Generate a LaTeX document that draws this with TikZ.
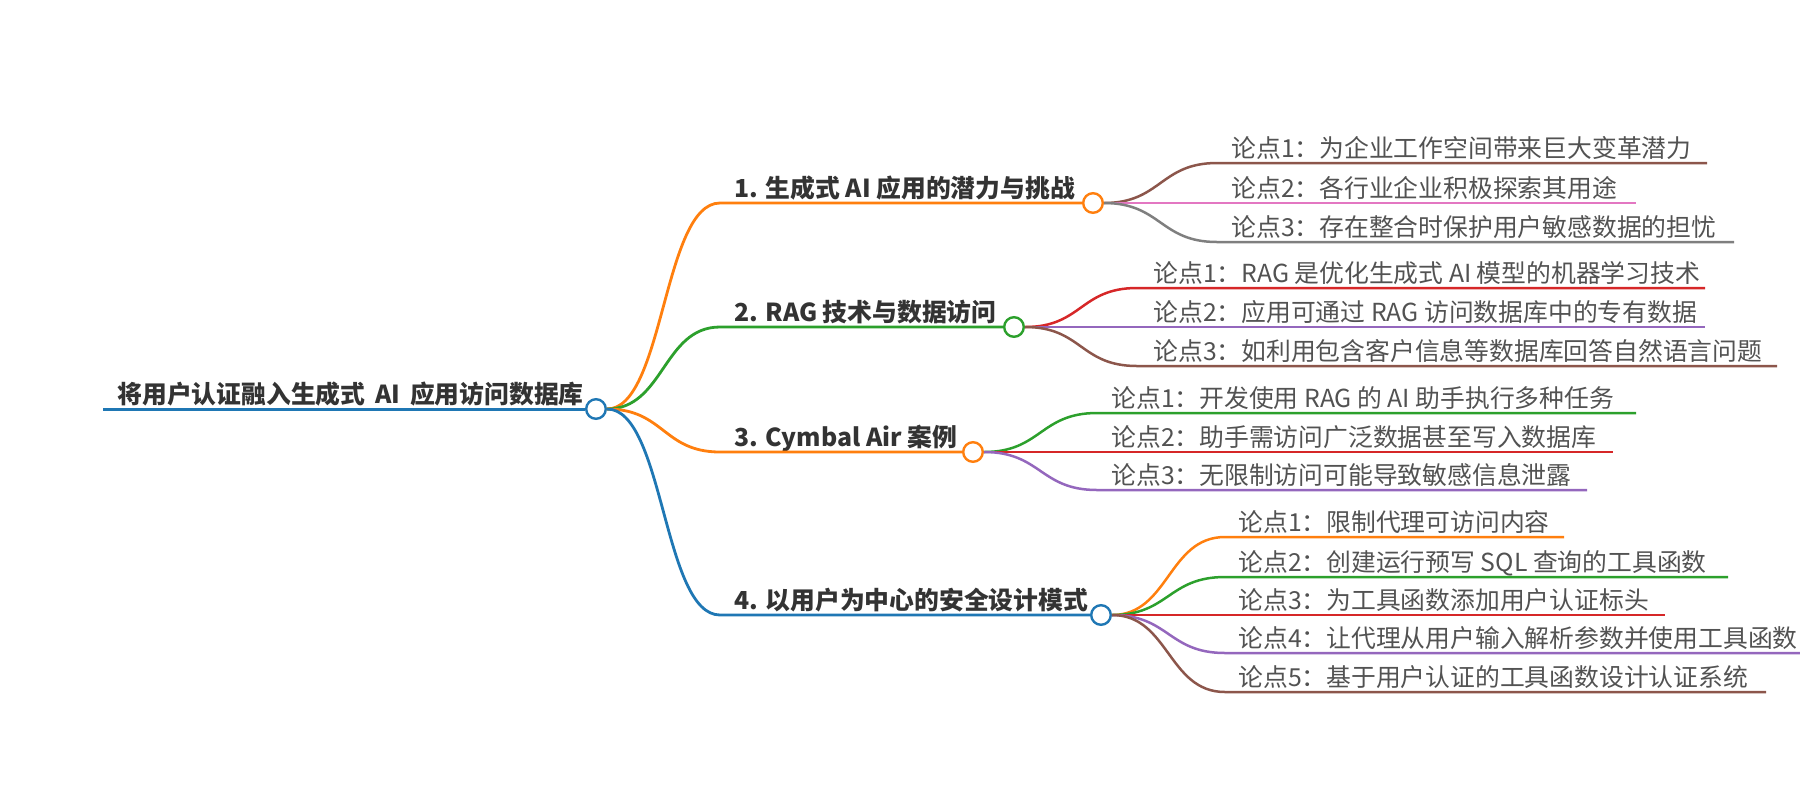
\documentclass[tikz,border=0pt]{standalone}
\usepackage{fontspec}
\setmainfont{Noto Sans CJK SC}
\usepackage{tikz}
\definecolor{mmOrange}{RGB}{255,127,14}
\definecolor{mmGreen}{RGB}{44,160,44}
\definecolor{mmBlue}{RGB}{31,119,180}
\definecolor{mmRed}{RGB}{214,39,40}
\definecolor{mmPurple}{RGB}{148,103,189}
\definecolor{mmBrown}{RGB}{140,86,75}
\definecolor{mmPink}{RGB}{227,119,194}
\definecolor{mmGray}{RGB}{127,127,127}
\tikzstyle{line} = [draw,line width=1.25pt]
\tikzstyle{dot} = [circle,draw,fill=white,line width=1.2pt,minimum size=9.8pt,inner sep=0pt]
\tikzstyle{topic} = [anchor=base west,inner sep=0pt,text=black!80,font=\fontsize{12.4}{14}\selectfont\bfseries]
\tikzstyle{leaf} = [anchor=base west,inner sep=0pt,text=black!68,font=\fontsize{12.4}{14}\selectfont]

\begin{document}
\begin{tikzpicture}[x=0.5pt,y=-0.5pt]
\useasboundingbox (0,0) rectangle (1800,800);
% root
\coordinate (rs) at (103,409);
\node[dot,draw=mmBlue] (root) at (596,409) {};
\node[topic] (roott) at (117,403) {将用户认证融入生成式\ \,AI\ \,应用访问数据库};
\path[line,line width=1.5pt,mmBlue] (rs) -- (root.west);

% branches
\coordinate (b1s) at (720,203);
\coordinate (b2s) at (720,327);
\coordinate (b3s) at (720,452);
\coordinate (b4s) at (720,615);
\node[dot,draw=mmOrange] (b1) at (1093,203) {};
\node[dot,draw=mmGreen] (b2) at (1014,327) {};
\node[dot,draw=mmOrange] (b3) at (973,452) {};
\node[dot,draw=mmBlue] (b4) at (1101,615) {};
\node[topic] (b1t) at (734,197) {1. 生成式 AI 应用的潜力与挑战};
\node[topic] (b2t) at (734,321) {2. RAG 技术与数据访问};
\node[topic] (b3t) at (734,446) {3. Cymbal Air 案例};
\node[topic] (b4t) at (734,609) {4. 以用户为中心的安全设计模式};
\path[line,line width=1.4pt,mmOrange] (root.east) .. controls +(57,0) and +(-57,0) .. (b1s) -- (b1.west);
\path[line,line width=1.4pt,mmGreen] (root.east) .. controls +(57,0) and +(-57,0) .. (b2s) -- (b2.west);
\path[line,line width=1.4pt,mmOrange] (root.east) .. controls +(57,0) and +(-57,0) .. (b3s) -- (b3.west);
\path[line,line width=1.4pt,mmBlue] (root.east) .. controls +(57,0) and +(-57,0) .. (b4s) -- (b4.west);

% leaves of 1
\coordinate (l11s) at (1217,163); \coordinate (l11e) at (1707,163);
\coordinate (l12s) at (1217,203); \coordinate (l12e) at (1636,203);
\coordinate (l13s) at (1217,242); \coordinate (l13e) at (1734,242);
\node[leaf] (l11) at (1231,157) {论点1：为企业工作空间带来巨大变革潜力};
\node[leaf] (l12) at (1231,197) {论点2：各行业企业积极探索其用途};
\node[leaf] (l13) at (1231,236) {论点3：存在整合时保护用户敏感数据的担忧};
\path[line,mmBrown] (b1.east) .. controls +(57,0) and +(-57,0) .. (l11s) -- (l11e);
\path[line,mmPink] (b1.east) .. controls +(57,0) and +(-57,0) .. (l12s) -- (l12e);
\path[line,mmGray] (b1.east) .. controls +(57,0) and +(-57,0) .. (l13s) -- (l13e);

% leaves of 2
\coordinate (l21s) at (1137,288); \coordinate (l21e) at (1705,288);
\coordinate (l22s) at (1137,327); \coordinate (l22e) at (1705,327);
\coordinate (l23s) at (1137,366); \coordinate (l23e) at (1777,366);
\node[leaf] (l21) at (1153,282) {论点1：RAG 是优化生成式 AI 模型的机器学习技术};
\node[leaf] (l22) at (1153,321) {论点2：应用可通过 RAG 访问数据库中的专有数据};
\node[leaf] (l23) at (1153,360) {论点3：如利用包含客户信息等数据库回答自然语言问题};
\path[line,mmRed] (b2.east) .. controls +(57,0) and +(-57,0) .. (l21s) -- (l21e);
\path[line,mmPurple] (b2.east) .. controls +(57,0) and +(-57,0) .. (l22s) -- (l22e);
\path[line,mmBrown] (b2.east) .. controls +(57,0) and +(-57,0) .. (l23s) -- (l23e);

% leaves of 3
\coordinate (l31s) at (1097,413); \coordinate (l31e) at (1636,413);
\coordinate (l32s) at (1097,452); \coordinate (l32e) at (1613,452);
\coordinate (l33s) at (1097,490); \coordinate (l33e) at (1587,490);
\node[leaf] (l31) at (1111,407) {论点1：开发使用 RAG 的 AI 助手执行多种任务};
\node[leaf] (l32) at (1111,446) {论点2：助手需访问广泛数据甚至写入数据库};
\node[leaf] (l33) at (1111,484) {论点3：无限制访问可能导致敏感信息泄露};
\path[line,mmGreen] (b3.east) .. controls +(57,0) and +(-57,0) .. (l31s) -- (l31e);
\path[line,mmRed] (b3.east) .. controls +(57,0) and +(-57,0) .. (l32s) -- (l32e);
\path[line,mmPurple] (b3.east) .. controls +(57,0) and +(-57,0) .. (l33s) -- (l33e);

% leaves of 4
\coordinate (l41s) at (1225,537); \coordinate (l41e) at (1564,537);
\coordinate (l42s) at (1225,577); \coordinate (l42e) at (1728,577);
\coordinate (l43s) at (1225,615); \coordinate (l43e) at (1665,615);
\coordinate (l44s) at (1225,653); \coordinate (l44e) at (1800,653);
\coordinate (l45s) at (1225,692); \coordinate (l45e) at (1766,692);
\node[leaf] (l41) at (1238,531) {论点1：限制代理可访问内容};
\node[leaf] (l42) at (1238,571) {论点2：创建运行预写 SQL 查询的工具函数};
\node[leaf] (l43) at (1238,609) {论点3：为工具函数添加用户认证标头};
\node[leaf] (l44) at (1238,647) {论点4：让代理从用户输入解析参数并使用工具函数};
\node[leaf] (l45) at (1238,686) {论点5：基于用户认证的工具函数设计认证系统};
\path[line,mmOrange] (b4.east) .. controls +(57,0) and +(-57,0) .. (l41s) -- (l41e);
\path[line,mmGreen] (b4.east) .. controls +(57,0) and +(-57,0) .. (l42s) -- (l42e);
\path[line,mmRed] (b4.east) .. controls +(57,0) and +(-57,0) .. (l43s) -- (l43e);
\path[line,mmPurple] (b4.east) .. controls +(57,0) and +(-57,0) .. (l44s) -- (l44e);
\path[line,mmBrown] (b4.east) .. controls +(57,0) and +(-57,0) .. (l45s) -- (l45e);
\end{tikzpicture}
\end{document}
